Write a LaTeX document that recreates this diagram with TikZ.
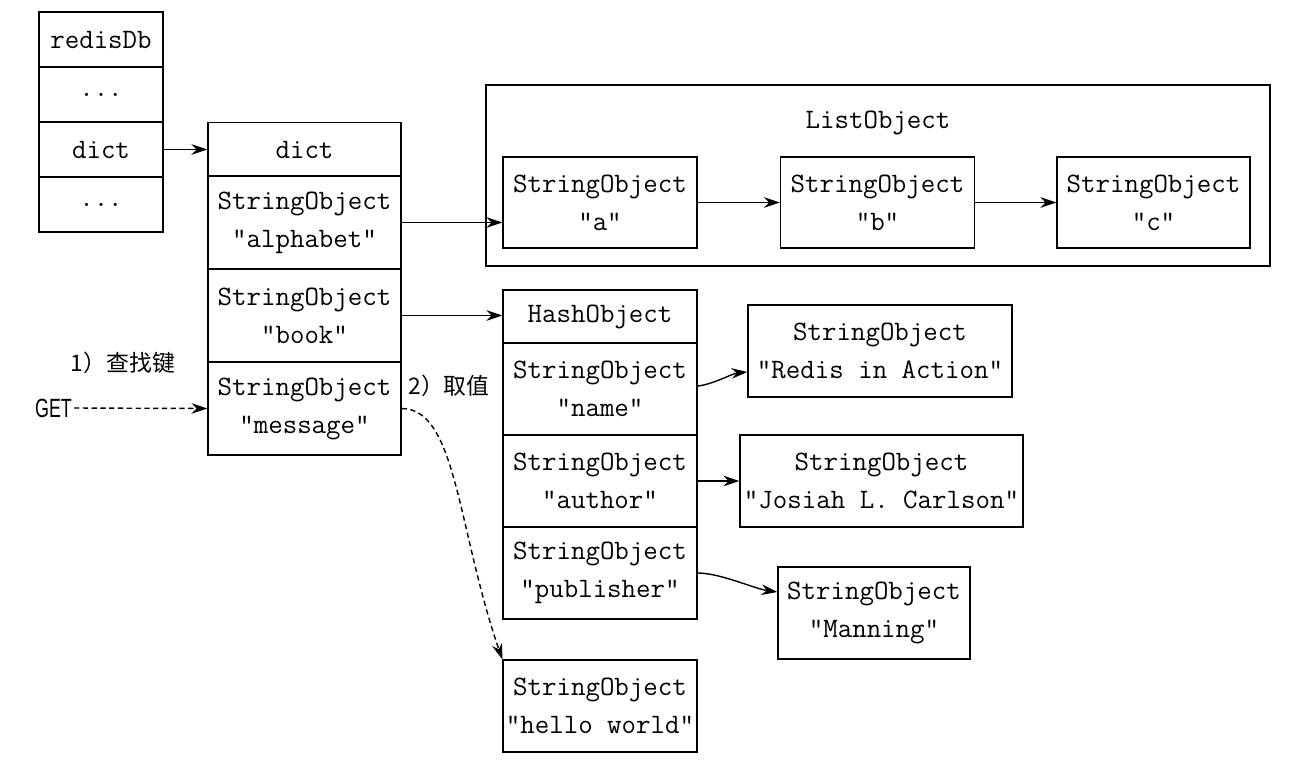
\documentclass[tikz,border=0pt]{standalone}
\usepackage{fontspec}
\newfontfamily\cjk{Noto Sans CJK SC}
\newfontfamily\getfont[FakeStretch=0.68]{Liberation Sans}
\usetikzlibrary{arrows.meta}

\begin{document}
\begin{tikzpicture}
    [
    x=0.02cm, y=-0.02cm,
    cell/.style = {draw,line width=0.8pt,inner sep=0pt,align=center,font=\ttfamily\fontsize{16}{21.6}\selectfont},
    rcell/.style = {cell,minimum width=2.48cm,minimum height=1.1cm},
    dcell/.style = {cell,minimum width=3.86cm,minimum height=1.86cm},
    hcell/.style = {cell,minimum width=3.88cm,minimum height=1.84cm},
    lcell/.style = {cell,minimum width=3.88cm,minimum height=1.82cm},
    note/.style = {font=\cjk\fontsize{13}{15}\selectfont,inner sep=0pt},
    link/.style = {line width=0.8pt,-{Stealth[length=9pt,width=6pt]}},
    dlink/.style = {link,dash pattern=on 3pt off 2pt}
    ]
\useasboundingbox (0,0) rectangle (1292,768);

% redisDb
\node[rcell] (rhead) at (101,39.5) {redisDb};
\node[rcell] (rdots1) at (101,94.5) {...};
\node[rcell] (rdict) at (101,149.5) {dict};
\node[rcell] (rdots2) at (101,204.5) {...};

% dict
\node[dcell,minimum height=1.08cm] (dhead) at (304.5,149.5) {dict};
\node[dcell] (dalpha) at (304.5,222.5) {StringObject\\"alphabet"};
\node[dcell] (dbook) at (304.5,315.5) {StringObject\\"book"};
\node[dcell] (dmsg) at (304.5,408.5) {StringObject\\"message"};

% ListObject
\node[cell,minimum width=15.68cm,minimum height=3.62cm] (list) at (878,175.5) {};
\node[cell,draw=none] (listlabel) at (878,123) {ListObject};
\node[lcell] (la) at (600,202.5) {StringObject\\"a"};
\node[lcell] (lb) at (877.5,202.5) {StringObject\\"b"};
\node[lcell,minimum width=3.86cm] (lc) at (1153.5,202.5) {StringObject\\"c"};

% HashObject
\node[hcell,minimum height=1.06cm] (hhead) at (600,316.5) {HashObject};
\node[hcell] (hname) at (600,389) {StringObject\\"name"};
\node[hcell] (hauthor) at (600,481) {StringObject\\"author"};
\node[hcell] (hpub) at (600,573) {StringObject\\"publisher"};

\node[hcell,minimum width=5.28cm] (redis) at (880,351) {StringObject\\"Redis in Action"};
\node[hcell,minimum width=5.66cm] (josiah) at (881.5,481) {StringObject\\"Josiah L. Carlson"};
\node[hcell,minimum width=3.84cm] (manning) at (874,613) {StringObject\\"Manning"};

\node[hcell] (hello) at (600,706) {StringObject\\"hello world"};

% GET
\node[font=\getfont\fontsize{15}{17}\selectfont,inner sep=1pt] (get) at (53.5,408) {GET};
\node[note] (step1) at (123,363) {1）查找键};
\node[note] (step2) at (449,386) {2）取值};

\draw[link] (rdict.east) -- (rdict.east -| dhead.west);
\draw[link] (dalpha.east) -- (dalpha.east -| la.west);
\draw[link] (la.east) -- (lb.west);
\draw[link] (lb.east) -- (lc.west);
\draw[link] (dbook.east) -- (dbook.east -| hhead.west);
\draw[link] ([yshift=0.06cm]hname.east) to[out=5,in=185,looseness=0.7] ([yshift=-0.42cm]redis.west);
\draw[link] (hauthor.east) -- (josiah.west);
\draw[link] (hpub.east) to[out=0,in=172,looseness=0.7] ([yshift=0.42cm]manning.west);

\draw[dlink] (get.east) -- (dmsg.west);
\draw[dlink] (dmsg.east) .. controls +(55,0) and +(-45,-130) .. (hello.north west);

\end{tikzpicture}
\end{document}
